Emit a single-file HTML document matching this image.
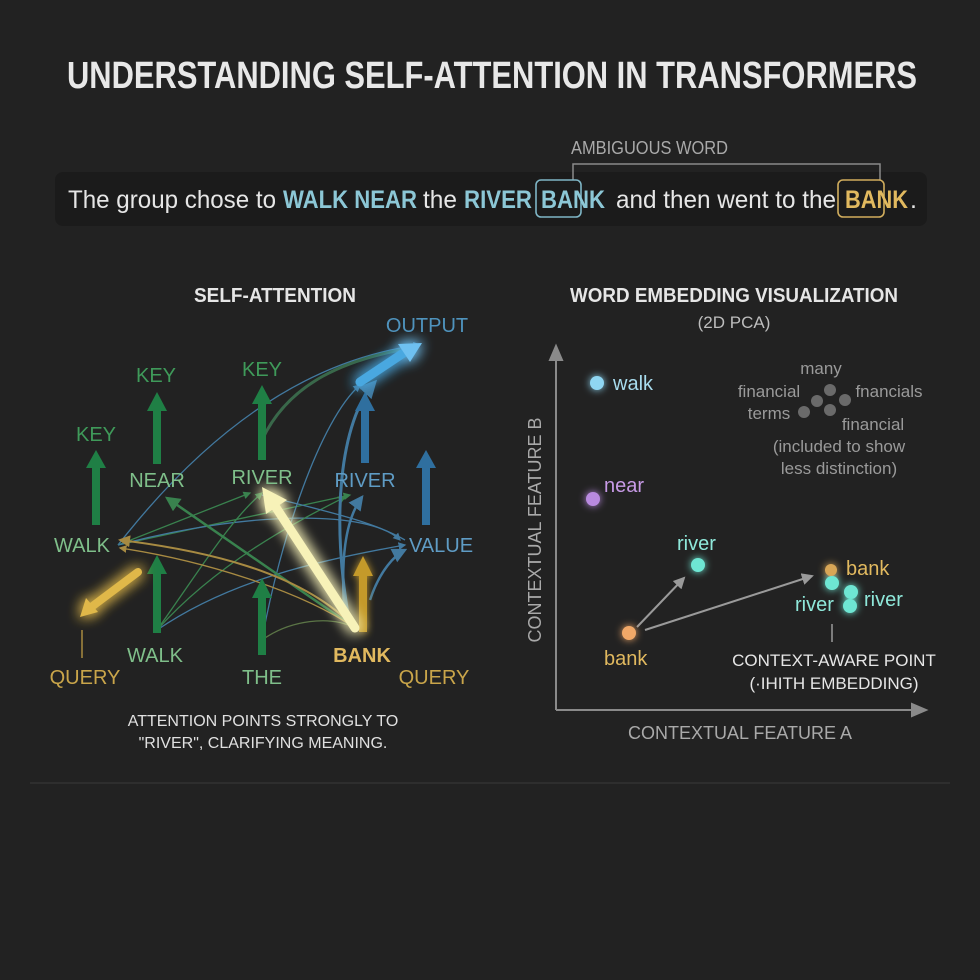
<!DOCTYPE html>
<html><head><meta charset="utf-8"><style>
html,body{margin:0;padding:0;background:#222222;}
svg{display:block}
text{font-family:"Liberation Sans Narrow","Liberation Sans",sans-serif;}
</style></head><body>
<svg width="980" height="980" viewBox="0 0 980 980" xmlns="http://www.w3.org/2000/svg">
<defs>
<filter id="glow" x="-50%" y="-50%" width="200%" height="200%"><feGaussianBlur stdDeviation="4" result="b"/><feMerge><feMergeNode in="b"/><feMergeNode in="SourceGraphic"/></feMerge></filter>
<filter id="glow2" x="-50%" y="-50%" width="200%" height="200%"><feGaussianBlur stdDeviation="7" result="b"/><feMerge><feMergeNode in="b"/><feMergeNode in="b"/><feMergeNode in="SourceGraphic"/></feMerge></filter>
<marker id="ag" markerWidth="6" markerHeight="6" refX="5" refY="3" orient="auto"><path d="M0,0L6,3L0,6z" fill="#3f9a5a"/></marker>
<marker id="ab" markerWidth="6" markerHeight="6" refX="5" refY="3" orient="auto"><path d="M0,0L6,3L0,6z" fill="#4a8fbf"/></marker>
<marker id="ay" markerWidth="6" markerHeight="6" refX="5" refY="3" orient="auto"><path d="M0,0L6,3L0,6z" fill="#c9a54a"/></marker>
<marker id="agr" markerWidth="6" markerHeight="6" refX="5" refY="3" orient="auto"><path d="M0,0L6,3L0,6z" fill="#9a9a9a"/></marker>
</defs>
<rect width="980" height="980" fill="#222222"/>

<text x="67" y="88" font-size="38" font-weight="bold" fill="#e8e8e8" textLength="850" lengthAdjust="spacingAndGlyphs">UNDERSTANDING SELF-ATTENTION IN TRANSFORMERS</text>

<!-- sentence band -->
<rect x="55" y="172" width="872" height="54" rx="8" fill="#1b1b1b"/>
<text x="571" y="154" font-size="18" fill="#a9a9a9" textLength="157" lengthAdjust="spacingAndGlyphs">AMBIGUOUS WORD</text>
<path d="M573,180 V164 H880 V180" fill="none" stroke="#8a8a8a" stroke-width="1.5"/>
<rect x="536" y="180" width="45" height="37" rx="5" fill="none" stroke="#7fb6c6" stroke-width="1.6"/>
<rect x="838" y="180" width="46" height="37" rx="5" fill="none" stroke="#d1ad5d" stroke-width="1.6"/>
<text y="208" font-size="25" fill="#e6e6e6">
<tspan x="68" textLength="208" lengthAdjust="spacingAndGlyphs">The group chose to</tspan>
<tspan x="283" font-weight="bold" fill="#8cc7d6" textLength="134" lengthAdjust="spacingAndGlyphs">WALK NEAR</tspan>
<tspan x="423" textLength="34" lengthAdjust="spacingAndGlyphs">the</tspan>
<tspan x="464" font-weight="bold" fill="#8cc7d6" textLength="68" lengthAdjust="spacingAndGlyphs">RIVER</tspan>
<tspan x="541" font-weight="bold" fill="#8cc7d6" textLength="64" lengthAdjust="spacingAndGlyphs">BANK</tspan>
<tspan x="616" textLength="220" lengthAdjust="spacingAndGlyphs">and then went to the</tspan>
<tspan x="845" font-weight="bold" fill="#e1b95f" textLength="63" lengthAdjust="spacingAndGlyphs">BANK</tspan>
<tspan x="910">.</tspan>
</text>

<!-- section headers -->
<text x="275" y="302" font-size="20" font-weight="bold" fill="#e6e6e6" text-anchor="middle" textLength="162" lengthAdjust="spacingAndGlyphs">SELF-ATTENTION</text>
<text x="734" y="302" font-size="20" font-weight="bold" fill="#e6e6e6" text-anchor="middle" textLength="328" lengthAdjust="spacingAndGlyphs">WORD EMBEDDING VISUALIZATION</text>
<text x="734" y="328" font-size="17" fill="#bdbdbd" text-anchor="middle">(2D PCA)</text>

<!-- LEFT DIAGRAM: curves -->
<g fill="none" stroke-width="1.3" opacity="0.8">
<path d="M118,545 C200,440 300,360 420,345" stroke="#4a8fbf" marker-end="url(#ab)"/>
<path d="M262,440 C290,380 350,360 400,350" stroke="#3f7a55" stroke-width="3"/>
<path d="M118,545 L250,493" stroke="#3f9a5a" marker-end="url(#ag)"/>
<path d="M118,545 L350,495" stroke="#3f9a5a" marker-end="url(#ag)"/>
<path d="M118,545 C250,510 370,510 400,540" stroke="#4a8fbf" marker-end="url(#ab)"/>
<path d="M157,630 C200,570 230,520 262,493" stroke="#3f9a5a" marker-end="url(#ag)"/>
<path d="M157,630 C220,560 300,520 345,497" stroke="#3f9a5a" marker-end="url(#ag)"/>
<path d="M157,630 C230,580 320,560 405,545" stroke="#4a8fbf" marker-end="url(#ab)"/>
<path d="M262,640 C280,540 320,420 360,385" stroke="#4a8fbf" marker-end="url(#ab)"/>
<path d="M262,640 C290,620 330,615 355,628" stroke="#6a8a50"/>
<path d="M355,628 L167,498" stroke="#3f9a5a" stroke-width="2.5" marker-end="url(#ag)"/>
<path d="M355,628 C300,570 200,550 120,540" stroke="#c9a54a" stroke-width="2" marker-end="url(#ay)"/>
<path d="M355,628 C300,590 200,560 120,548" stroke="#c9a54a" stroke-width="1.3" marker-end="url(#ay)"/>
<path d="M350,625 C330,520 340,420 375,382" stroke="#4a8fbf" stroke-width="3" marker-end="url(#ab)"/>
<path d="M345,620 C340,560 345,520 362,497" stroke="#4a8fbf" stroke-width="2.5" marker-end="url(#ab)"/>
<path d="M370,600 C380,570 395,555 405,550" stroke="#4a8fbf" stroke-width="2.5" marker-end="url(#ab)"/>
<path d="M262,495 C320,510 370,520 405,540" stroke="#4a8fbf"/>
</g>

<!-- straight arrows -->
<g>
<g fill="#1f7f45">
<rect x="92" y="465" width="8" height="60"/><path d="M86,468 L96,450 L106,468z"/>
<rect x="153" y="408" width="8" height="56"/><path d="M147,411 L157,392 L167,411z"/>
<rect x="258" y="402" width="8" height="58"/><path d="M252,404 L262,385 L272,404z"/>
<rect x="153" y="572" width="8" height="61"/><path d="M147,574 L157,555 L167,574z"/>
<rect x="258" y="596" width="8" height="59"/><path d="M252,598 L262,578 L272,598z"/>
</g>
<g fill="#2f6f9f">
<rect x="361" y="410" width="8" height="53"/><path d="M355,411 L365,392 L375,411z"/>
<rect x="422" y="467" width="8" height="58"/><path d="M416,468 L426,450 L436,468z"/>
</g>
<g fill="#c49a2c" filter="url(#glow)">
<rect x="359" y="574" width="8" height="58"/><path d="M353,576 L363,556 L373,576z"/>
</g>
<g filter="url(#glow2)">
<path d="M138,572 L90,608" stroke="#e0b84a" stroke-width="8" stroke-linecap="round"/>
<path d="M80,617 L86,598 L98,612z" fill="#e0b84a"/>
<path d="M360,382 L405,352" stroke="#4aa8e0" stroke-width="9" stroke-linecap="round"/>
<path d="M422,343 L398,344 L410,362z" fill="#6ec0f0"/>
<path d="M355,628 L275,506" stroke="#f7f2b8" stroke-width="9" stroke-linecap="round"/>
<path d="M262,487 L266,514 L287,500z" fill="#f7f2b8"/>
</g>
<line x1="82" y1="630" x2="82" y2="658" stroke="#a88a40" stroke-width="1.5"/>
</g>

<!-- left labels -->
<g font-size="20" text-anchor="middle">
<text x="427" y="332" fill="#4f93bd">OUTPUT</text>
<text x="96" y="441" fill="#3f9a5a">KEY</text>
<text x="156" y="382" fill="#3f9a5a">KEY</text>
<text x="262" y="376" fill="#3f9a5a">KEY</text>
<text x="157" y="487" fill="#7fbf8a">NEAR</text>
<text x="262" y="484" fill="#7fbf8a">RIVER</text>
<text x="365" y="487" fill="#5f9cc5">RIVER</text>
<text x="82" y="552" fill="#7fbf8a">WALK</text>
<text x="441" y="552" fill="#5f9cc5">VALUE</text>
<text x="155" y="662" fill="#7fbf8a">WALK</text>
<text x="262" y="684" fill="#7fbf8a">THE</text>
<text x="362" y="662" fill="#e1b95f" font-weight="bold">BANK</text>
<text x="85" y="684" fill="#c9a54a">QUERY</text>
<text x="434" y="684" fill="#c9a54a">QUERY</text>
</g>
<text x="263" y="726" font-size="16" fill="#e0e0e0" text-anchor="middle">ATTENTION POINTS STRONGLY TO</text>
<text x="263" y="748" font-size="16" fill="#e0e0e0" text-anchor="middle">"RIVER", CLARIFYING MEANING.</text>

<!-- RIGHT CHART -->
<g stroke="#8a8a8a" stroke-width="2" fill="#8a8a8a">
<line x1="556" y1="710" x2="556" y2="356"/><path d="M550,360 L556,346 L562,360z"/>
<line x1="556" y1="710" x2="915" y2="710"/><path d="M912,704 L926,710 L912,716z"/>
</g>
<text transform="translate(541,530) rotate(-90)" font-size="18" fill="#a9a9a9" text-anchor="middle">CONTEXTUAL FEATURE B</text>
<text x="740" y="739" font-size="18" fill="#a9a9a9" text-anchor="middle">CONTEXTUAL FEATURE A</text>

<g stroke="#9a9a9a" stroke-width="2" fill="none">
<line x1="637" y1="627" x2="684" y2="578" marker-end="url(#agr)"/>
<line x1="645" y1="630" x2="812" y2="576" marker-end="url(#agr)"/>
</g>
<line x1="832" y1="624" x2="832" y2="642" stroke="#9a9a9a" stroke-width="1.5"/>

<g filter="url(#glow)">
<circle cx="597" cy="383" r="7" fill="#8fd6f2"/>
<circle cx="593" cy="499" r="7" fill="#b98ae0"/>
<circle cx="698" cy="565" r="7" fill="#6ee6d3"/>
<circle cx="629" cy="633" r="7" fill="#f0a868"/>
<circle cx="831" cy="570" r="6" fill="#d8a656"/>
<circle cx="832" cy="583" r="7" fill="#6ee6d3"/>
<circle cx="851" cy="592" r="7" fill="#6ee6d3"/>
<circle cx="850" cy="606" r="7" fill="#6ee6d3"/>
</g>
<g fill="#6a6a6a">
<circle cx="830" cy="390" r="6"/><circle cx="817" cy="401" r="6"/><circle cx="845" cy="400" r="6"/><circle cx="804" cy="412" r="6"/><circle cx="830" cy="410" r="6"/>
</g>

<g font-size="20">
<text x="613" y="390" fill="#a8dcee">walk</text>
<text x="604" y="492" fill="#c79ae6">near</text>
<text x="677" y="550" fill="#8fe8da">river</text>
<text x="604" y="665" fill="#e1b95f">bank</text>
<text x="846" y="575" fill="#e1b95f">bank</text>
<text x="795" y="611" fill="#8fe8da">river</text>
<text x="864" y="606" fill="#8fe8da">river</text>
</g>
<g font-size="17" fill="#9a9a9a" text-anchor="middle">
<text x="821" y="374">many</text>
<text x="769" y="397">financial</text>
<text x="769" y="419">terms</text>
<text x="889" y="397">fnancials</text>
<text x="873" y="430">financial</text>
<text x="839" y="452">(included to show</text>
<text x="839" y="474">less distinction)</text>
</g>
<g font-size="17" fill="#e6e6e6" text-anchor="middle">
<text x="834" y="666">CONTEXT-AWARE POINT</text>
<text x="834" y="689">(·IHITH EMBEDDING)</text>
</g>

<line x1="30" y1="783" x2="950" y2="783" stroke="#333333" stroke-width="1.5"/>
</svg>
</body></html>
